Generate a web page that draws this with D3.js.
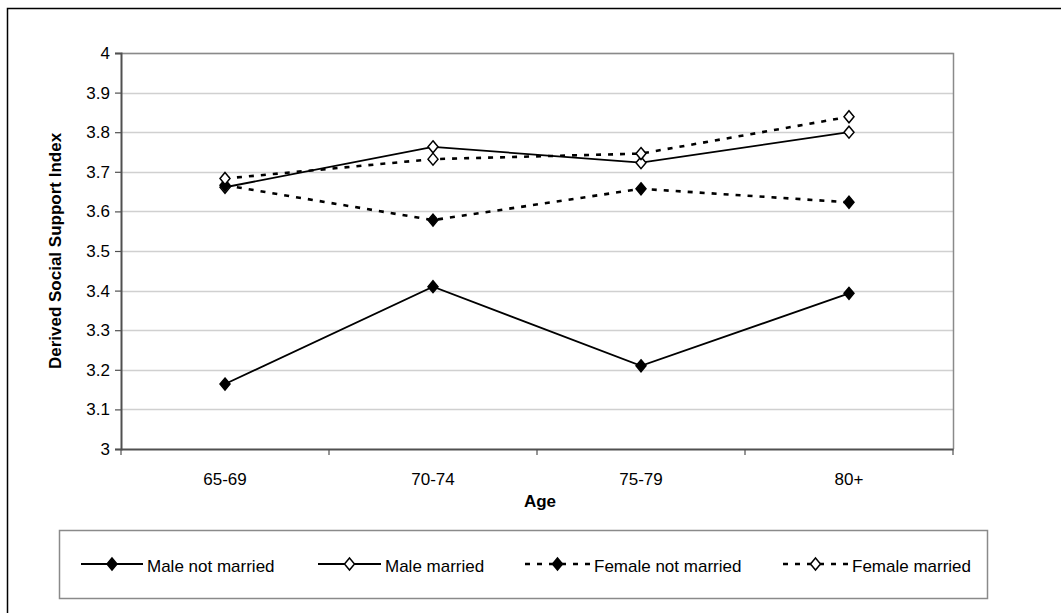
<!DOCTYPE html>
<html>
<head>
<meta charset="utf-8">
<script src="https://cdn.jsdelivr.net/npm/d3@7"></script>
<style>
  html, body { margin: 0; padding: 0; background: #fff; }
  svg { display: block; font-family: "Liberation Sans", Arial, sans-serif; }
</style>
</head>
<body>
<svg id="chart" width="1061" height="613"></svg>
<script>
// Age groups along the x axis
const ageGroups = ["65-69", "70-74", "75-79", "80+"];

// Derived social support index by group
const maleNotMarried   = [3.164, 3.410, 3.210, 3.393];
const maleMarried      = [3.661, 3.763, 3.723, 3.800];
const femaleNotMarried = [3.666, 3.578, 3.657, 3.623];
const femaleMarried    = [3.683, 3.732, 3.746, 3.839];

const yTicks = [3, 3.1, 3.2, 3.3, 3.4, 3.5, 3.6, 3.7, 3.8, 3.9, 4];

const seriesNames = ["Male not married", "Male married", "Female not married", "Female married"];

const series = [
  { name: seriesNames[0], values: maleNotMarried,   dashed: false, filled: true  },
  { name: seriesNames[1], values: maleMarried,      dashed: false, filled: false },
  { name: seriesNames[2], values: femaleNotMarried, dashed: true,  filled: true  },
  { name: seriesNames[3], values: femaleMarried,    dashed: true,  filled: false }
];

const svg = d3.select("#chart");

// Outer chart frame
svg.append("rect")
  .attr("x", 7.5).attr("y", 8.5)
  .attr("width", 1100).attr("height", 700)
  .attr("fill", "none").attr("stroke", "#000").attr("stroke-width", 1.5);

const plot = { left: 121, right: 953, top: 53, bottom: 449 };

const x = d3.scaleBand().domain(ageGroups).range([plot.left, plot.right]).padding(0);
const y = d3.scaleLinear().domain([3, 4]).range([plot.bottom, plot.top]);
const cx = d => x(d) + x.bandwidth() / 2;

// Horizontal gridlines
svg.append("g")
  .selectAll("line")
  .data(yTicks.filter(t => t > 3))
  .join("line")
  .attr("x1", plot.left).attr("x2", plot.right)
  .attr("y1", d => Math.round(y(d)) + 0.5).attr("y2", d => Math.round(y(d)) + 0.5)
  .attr("stroke", "#d0d0d0").attr("stroke-width", 1.3);

// Plot-area border (top and right)
svg.append("path")
  .attr("d", `M${plot.left},${plot.top + 0.5}H${plot.right + 0.5}V${plot.bottom}`)
  .attr("fill", "none").attr("stroke", "#8a8a8a").attr("stroke-width", 1.5);

// Y axis
const yAxis = svg.append("g")
  .attr("transform", `translate(${plot.left},0)`)
  .call(d3.axisLeft(y).tickValues(yTicks).tickSize(6).tickPadding(5)
    .tickFormat(d => d3.format("")(+d.toFixed(1))));
yAxis.select(".domain").attr("stroke", "#505050").attr("stroke-width", 2);
yAxis.selectAll(".tick line").attr("stroke", "#505050").attr("stroke-width", 1.2);
yAxis.selectAll(".tick text")
  .attr("font-size", 17).attr("fill", "#000")
  .attr("font-family", "Liberation Sans, Arial, sans-serif");

// X axis with ticks at category boundaries
const xAxis = svg.append("g")
  .attr("transform", `translate(0,${plot.bottom})`)
  .call(d3.axisBottom(x).tickSize(0).tickPadding(24));
xAxis.select(".domain").attr("stroke", "#505050").attr("stroke-width", 2);
xAxis.selectAll(".tick text")
  .attr("font-size", 17).attr("fill", "#000")
  .attr("font-family", "Liberation Sans, Arial, sans-serif");

const boundaries = ageGroups.map(d => x(d)).concat([x(ageGroups[ageGroups.length - 1]) + x.bandwidth()]);
svg.append("g")
  .selectAll("line")
  .data(boundaries)
  .join("line")
  .attr("x1", d => d).attr("x2", d => d)
  .attr("y1", plot.bottom).attr("y2", plot.bottom + 6)
  .attr("stroke", "#505050").attr("stroke-width", 1.2);

// Axis titles
svg.append("text")
  .attr("x", 540).attr("y", 507)
  .attr("text-anchor", "middle")
  .attr("font-size", 17).attr("font-weight", "bold")
  .text("Age");

svg.append("text")
  .attr("transform", `translate(61,${(plot.top + plot.bottom) / 2}) rotate(-90)`)
  .attr("text-anchor", "middle")
  .attr("font-size", 17).attr("font-weight", "bold")
  .text("Derived Social Support Index");

// Diamond marker path centred on 0,0
const diamond = (w, h) => `M0,${-h / 2}L${w / 2},0L0,${h / 2}L${-w / 2},0Z`;

const line = d3.line().x((d, i) => cx(ageGroups[i])).y(d => y(d));
const dashPattern = "5,7";

const lines = svg.append("g");
series.forEach(s => {
  lines.append("path")
    .datum(s.values)
    .attr("d", line)
    .attr("fill", "none")
    .attr("stroke", "#000")
    .attr("stroke-width", s.dashed ? 2.6 : 1.8)
    .attr("stroke-dasharray", s.dashed ? dashPattern : null);
});

series.forEach(s => {
  lines.append("g")
    .selectAll("path")
    .data(s.values)
    .join("path")
    .attr("transform", (d, i) => `translate(${cx(ageGroups[i])},${y(d)})`)
    .attr("d", diamond(10, 12))
    .attr("fill", s.filled ? "#000" : "#fff")
    .attr("stroke", "#000").attr("stroke-width", 1.5);
});

// Legend
const legendBox = { x: 59, y: 530, w: 928, h: 68 };
svg.append("rect")
  .attr("x", legendBox.x + 0.5).attr("y", legendBox.y + 0.5)
  .attr("width", legendBox.w).attr("height", legendBox.h)
  .attr("fill", "#fff").attr("stroke", "#8a8a8a").attr("stroke-width", 1.5);

const legendItems = [
  { x0: 81,  x1: 143 },
  { x0: 318, x1: 381 },
  { x0: 525, x1: 590 },
  { x0: 783, x1: 848 }
];
const legendY = 564;

series.forEach((s, i) => {
  const it = legendItems[i];
  const g = svg.append("g");
  g.append("line")
    .attr("x1", it.x0).attr("x2", it.x1)
    .attr("y1", legendY).attr("y2", legendY)
    .attr("stroke", "#000")
    .attr("stroke-width", s.dashed ? 2.6 : 1.8)
    .attr("stroke-dasharray", s.dashed ? dashPattern : null);
  g.append("path")
    .attr("transform", `translate(${(it.x0 + it.x1) / 2},${legendY})`)
    .attr("d", diamond(10, 12))
    .attr("fill", s.filled ? "#000" : "#fff")
    .attr("stroke", "#000").attr("stroke-width", 1.5);
  g.append("text")
    .attr("x", it.x1 + 4).attr("y", legendY + 8)
    .attr("font-size", 17)
    .text(s.name);
});
</script>
</body>
</html>
